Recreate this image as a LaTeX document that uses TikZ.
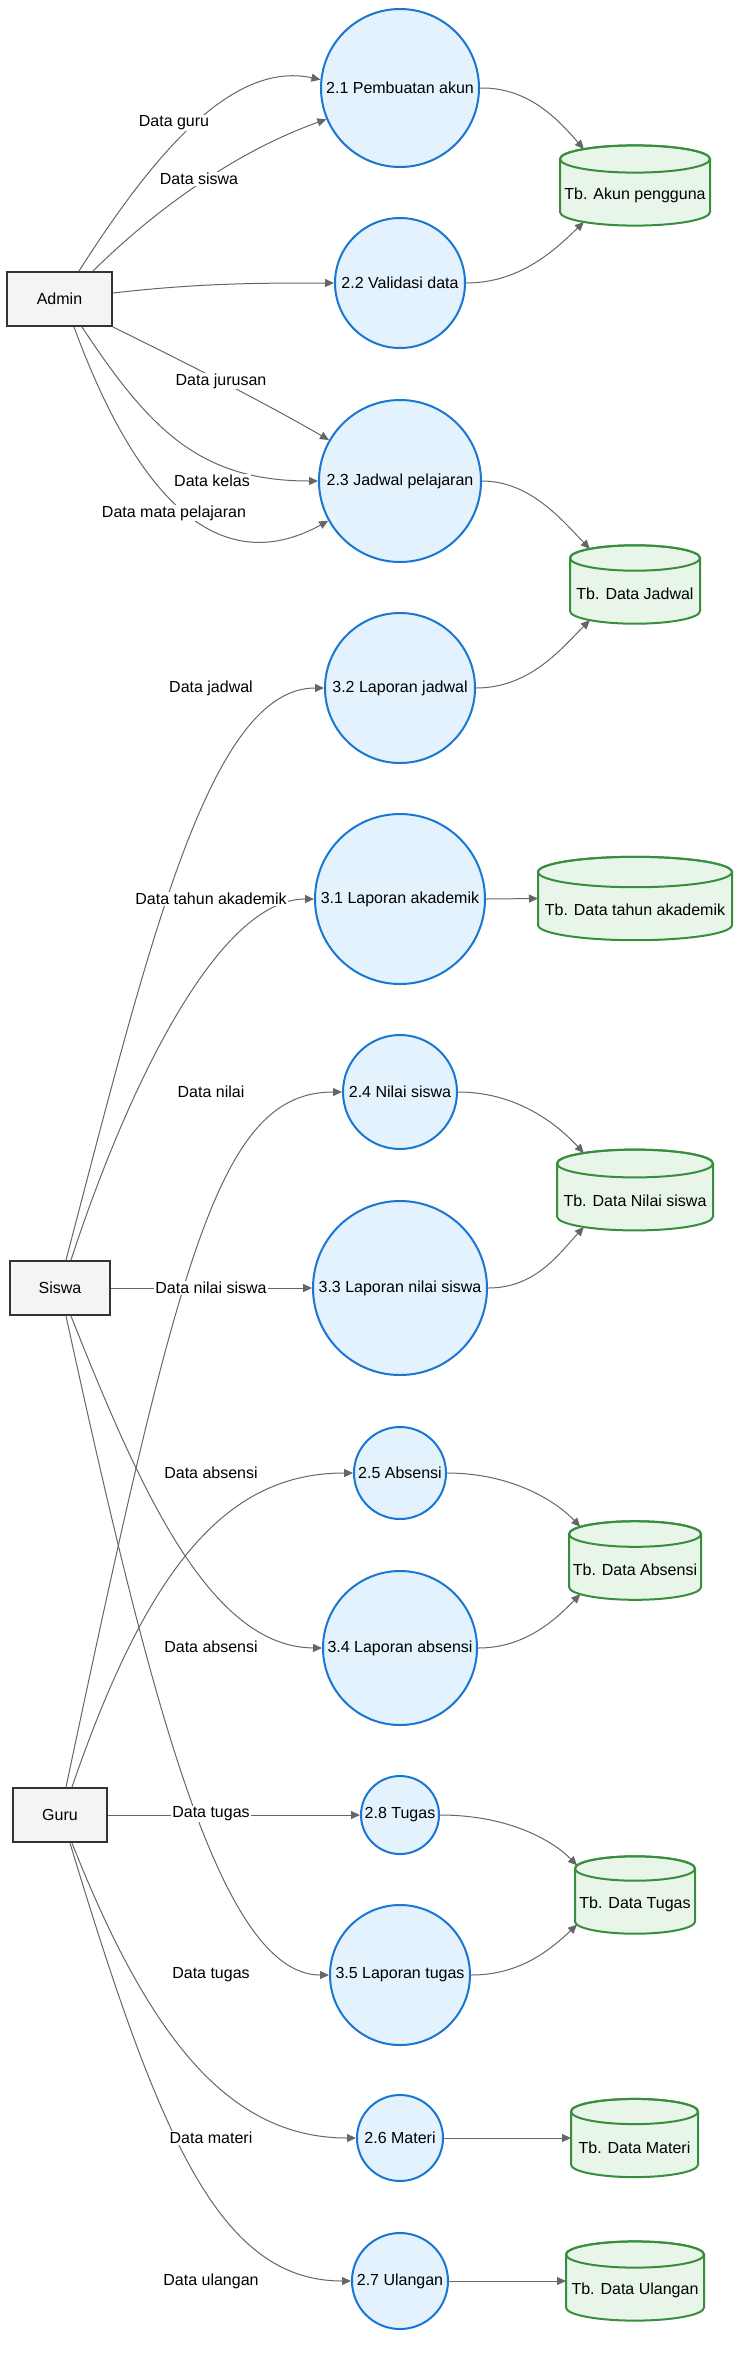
\documentclass[tikz,border=0pt]{standalone}
\usepackage{fontspec}
\setmainfont{Liberation Sans}
\usetikzlibrary{arrows.meta}
\definecolor{procfill}{HTML}{E3F2FD}
\definecolor{procdraw}{HTML}{1976D2}
\definecolor{dbfillc}{HTML}{E8F5E9}
\definecolor{dbdraw}{HTML}{388E3C}
\definecolor{entfill}{HTML}{F4F4F4}
\definecolor{entdraw}{HTML}{333333}
\definecolor{edgec}{HTML}{666666}
\newcommand\dbnode[7]{%
  \pgfmathsetmacro\dbT{#3-26.5}%
  \pgfmathsetmacro\dbB{#3+26.5}%
  \pgfmathsetmacro\dbL{#2-#4}%
  \pgfmathsetmacro\dbR{#2+#4}%
  \path[dbshape] (\dbL,\dbT) -- (\dbL,\dbB) arc[start angle=180,end angle=360,x radius=#4pt,y radius=#5pt] -- (\dbR,\dbT) arc[start angle=0,end angle=180,x radius=#4pt,y radius=#5pt] -- cycle;
  \draw[dbshape,fill=none] (#2,\dbT) ellipse[x radius=#4pt,y radius=#5pt];
  \node[inner sep=0pt] (#1) at (#2,{#3+0.75*#5}) {#7};
  \coordinate (#1-top) at ({#2+#4*cos(#6)},{\dbT-#5*sin(#6)});
  \coordinate (#1-bot) at ({#2+#4*cos(#6)},{\dbB+#5*sin(#6)});
  \coordinate (#1-w) at (\dbL,#3);
}
\begin{document}
\begin{tikzpicture}[x=1pt,y=-1pt,font=\fontsize{16}{19}\selectfont,
  proc/.style={circle,draw=procdraw,fill=procfill,line width=2pt,inner sep=0pt},
  ent/.style={rectangle,draw=entdraw,fill=entfill,line width=2pt,minimum height=54pt,inner sep=0pt},
  flow/.style={draw=edgec,line width=1pt,-{Triangle[length=9pt,width=8pt]}},
  lbl/.style={fill=white,inner sep=1pt},
  dbshape/.style={draw=dbdraw,fill=dbfillc,line width=2pt}]
\useasboundingbox (0,0) rectangle (748,2362);

% external entities
\node[ent,minimum width=105pt] (admin) at (59.5,299) {Admin};
\node[ent,minimum width=100pt] (siswa) at (60,1288) {Siswa};
\node[ent,minimum width=94pt] (guru) at (60,1815) {Guru};

% processes
\node[proc,minimum size=158pt] (p21) at (400,88) {2.1 Pembuatan akun};
\node[proc,minimum size=130pt] (p22) at (400,283) {2.2 Validasi data};
\node[proc,minimum size=162pt] (p23) at (400,481) {2.3 Jadwal pelajaran};
\node[proc,minimum size=150pt] (p32) at (400,688) {3.2 Laporan jadwal};
\node[proc,minimum size=170pt] (p31) at (400,899) {3.1 Laporan akademik};
\node[proc,minimum size=114pt] (p24) at (400,1092) {2.4 Nilai siswa};
\node[proc,minimum size=174pt] (p33) at (400,1288) {3.3 Laporan nilai siswa};
\node[proc,minimum size=92pt] (p25) at (400,1473) {2.5 Absensi};
\node[proc,minimum size=154pt] (p34) at (400,1648) {3.4 Laporan absensi};
\node[proc,minimum size=78pt] (p28) at (400,1815) {2.8 Tugas};
\node[proc,minimum size=140pt] (p35) at (400,1975) {3.5 Laporan tugas};
\node[proc,minimum size=86pt] (p26) at (400,2138) {2.6 Materi};
\node[proc,minimum size=96pt] (p27) at (400,2281) {2.7 Ulangan};

% data stores
\dbnode{tbakun}{635}{185.5}{75}{13.6}{133}{Tb. Akun pengguna}
\dbnode{tbjadwal}{635}{584.5}{65}{12.7}{134}{Tb. Data Jadwal}
\dbnode{tbtahun}{635}{898.5}{97}{15.2}{180}{Tb. Data tahun akademik}
\dbnode{tbnilai}{635}{1190}{78}{13.9}{131}{Tb. Data Nilai siswa}
\dbnode{tbabsensi}{635}{1560.5}{66}{12.8}{146}{Tb. Data Absensi}
\dbnode{tbtugas}{635}{1895}{60}{12.2}{165}{Tb. Data Tugas}
\dbnode{tbmateri}{634.5}{2138}{63.5}{12.6}{180}{Tb. Data Materi}
\dbnode{tbulangan}{635}{2281}{69}{13.1}{180}{Tb. Data Ulangan}

% Admin flows
\draw[flow] ([xshift=19.5pt]admin.north) .. controls (150,160) and (230,60) .. (p21.174);
\draw[flow] ([xshift=33.5pt]admin.north) .. controls (160,205) and (240,150) .. (p21.203);
\draw[flow] ([yshift=6pt]admin.east) .. controls (200,283) and (260,283) .. (p22.west);
\draw[flow] (admin.south east) .. controls (180,360) and (260,400) .. (p23.150);
\draw[flow] ([xshift=22.5pt]admin.south) .. controls (150,430) and (200,481) .. (p23.west);
\draw[flow] ([xshift=14.5pt]admin.south) .. controls (145,520) and (230,575) .. (p23.209);

% Siswa flows
\draw[flow] ([xshift=6pt]siswa.north) .. controls (150,940) and (210,688) .. (p32.west);
\draw[flow] ([xshift=11pt]siswa.north) .. controls (130,1080) and (220,899) .. (p31.west);
\draw[flow] (siswa.east) -- (p33.west);
\draw[flow] ([xshift=11pt]siswa.south) .. controls (140,1490) and (210,1647) .. (p34.west);
\draw[flow] ([xshift=6pt]siswa.south) .. controls (150,1700) and (220,1975) .. (p35.west);

% Guru flows
\draw[flow] ([xshift=6pt]guru.north) .. controls (180,1250) and (220,1092) .. (p24.west);
\draw[flow] ([xshift=12pt]guru.north) .. controls (150,1560) and (230,1473) .. (p25.west);
\draw[flow] (guru.east) -- (p28.west);
\draw[flow] ([xshift=12pt]guru.south) .. controls (150,2040) and (230,2138) .. (p26.west);
\draw[flow] ([xshift=10pt]guru.south) .. controls (160,2140) and (220,2281) .. (p27.west);

% process -> store flows
\draw[flow] (p21.east) .. controls (530,87) and (560,122) .. (tbakun-top);
\draw[flow] (p22.east) .. controls (520,283) and (555,250) .. (tbakun-bot);
\draw[flow] (p23.east) .. controls (530,481) and (562,520) .. (tbjadwal-top);
\draw[flow] (p32.east) .. controls (530,688) and (562,648) .. (tbjadwal-bot);
\draw[flow] (p31.east) -- (tbtahun-w);
\draw[flow] (p24.east) .. controls (515,1092) and (555,1122) .. (tbnilai-top);
\draw[flow] (p33.east) .. controls (535,1288) and (558,1255) .. (tbnilai-bot);
\draw[flow] (p25.east) .. controls (510,1473) and (555,1500) .. (tbabsensi-top);
\draw[flow] (p34.east) .. controls (525,1648) and (555,1620) .. (tbabsensi-bot);
\draw[flow] (p28.east) .. controls (505,1815) and (550,1838) .. (tbtugas-top);
\draw[flow] (p35.east) .. controls (520,1975) and (550,1950) .. (tbtugas-bot);
\draw[flow] (p26.east) -- (tbmateri-w);
\draw[flow] (p27.east) -- (tbulangan-w);

% labels
\node[lbl] (l1) at (174,123) {Data guru};
\node[lbl] (l2) at (199,179) {Data siswa};
\node[lbl] (l3) at (221,381) {Data jurusan};
\node[lbl] (l4) at (212,481) {Data kelas};
\node[lbl] (l5) at (174,513) {Data mata pelajaran};
\node[lbl] (l6) at (211,688) {Data jadwal};
\node[lbl] (l7) at (211,899) {Data tahun akademik};
\node[lbl] (l8) at (211,1092) {Data nilai};
\node[lbl] (l9) at (211,1288) {Data nilai siswa};
\node[lbl] (l10) at (211,1473) {Data absensi};
\node[lbl] (l11) at (211,1647) {Data absensi};
\node[lbl] (l12) at (211,1814) {Data tugas};
\node[lbl] (l13) at (211,1975) {Data tugas};
\node[lbl] (l14) at (211,2138) {Data materi};
\node[lbl] (l15) at (211,2281) {Data ulangan};
\end{tikzpicture}
\end{document}
